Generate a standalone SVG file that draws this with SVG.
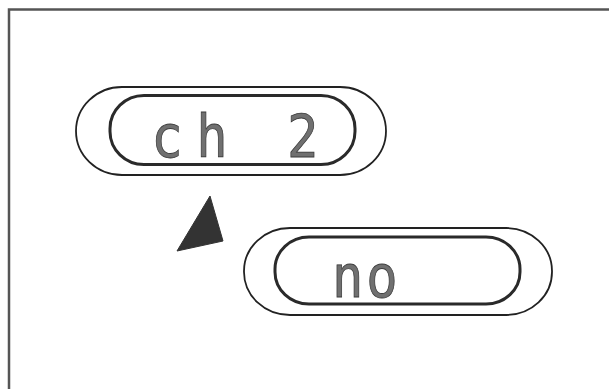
<svg xmlns="http://www.w3.org/2000/svg" width="609" height="389" viewBox="0 0 609 389">
<style>
.outer{fill:none;stroke:#222;stroke-width:1.8}
.inner{fill:none;stroke:#2a2a2a;stroke-width:3}
.lcd{font-family:"DejaVu Sans Mono","Liberation Mono",monospace;font-size:58px;fill:#707070;stroke:#3a3a3a;stroke-width:0.8}
.frame{fill:none;stroke:#555;stroke-width:2.5}
</style>
<rect width="609" height="389" fill="#fff"/>
<g id="frame">
<path class="frame" d="M9,392 V9.5 H612"/>
</g>
<g id="display-ch2">
<rect class="outer" x="76" y="87" width="310" height="88" rx="46" ry="44"/>
<rect class="inner" x="110" y="95.5" width="245" height="69" rx="34" ry="33"/>
<text class="lcd" transform="scale(0.9,1)" x="168 218 268 319" y="157">ch 2</text>
</g>
<g id="display-no">
<rect class="outer" x="244" y="228" width="308" height="87" rx="46" ry="43"/>
<rect class="inner" x="275" y="237" width="245" height="67" rx="34" ry="32"/>
<text class="lcd" transform="scale(0.9,1)" x="369 407" y="297">no</text>
</g>
<g id="connectors">
<polygon points="210,196 177,251 223,241" fill="#333" stroke="#333" stroke-width="1" stroke-linejoin="round"/>
</g>
</svg>
